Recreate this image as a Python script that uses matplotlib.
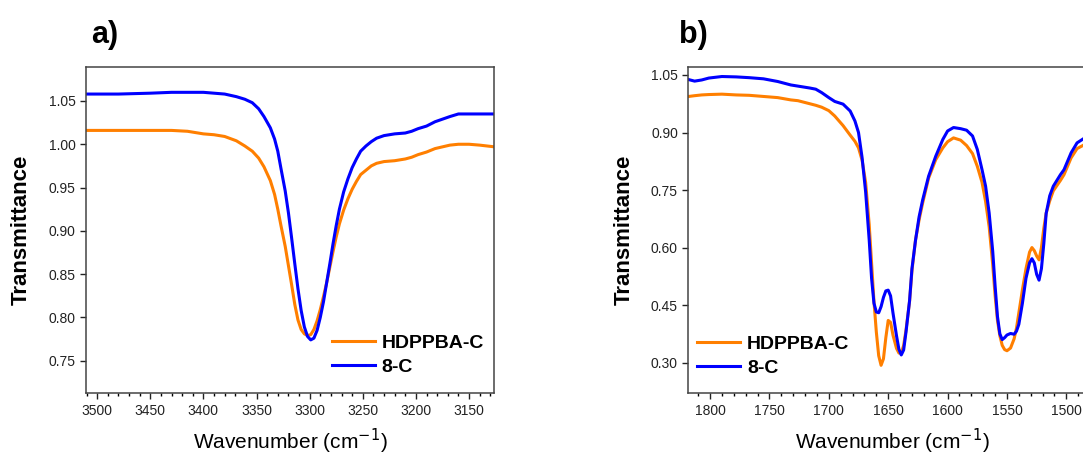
import numpy as np
import matplotlib.pyplot as plt
from matplotlib.ticker import MultipleLocator, FormatStrFormatter

plt.rcParams['font.family'] = ['Liberation Sans', 'DejaVu Sans']

# panel a) : N-H stretching region
wn_a = [3511, 3480, 3450, 3430, 3415, 3400, 3390, 3380, 3369, 3361, 3354, 3348, 3343,
        3337, 3333, 3330, 3327, 3323, 3320, 3317, 3314, 3311, 3308, 3305, 3302, 3299,
        3296, 3293, 3290, 3287, 3284, 3281, 3278, 3275, 3272, 3268, 3264, 3260, 3256,
        3252, 3247, 3242, 3237, 3230, 3220, 3210, 3204, 3198, 3190, 3182, 3175, 3168,
        3160, 3150, 3140, 3126]
hdppba_a = [1.016, 1.016, 1.016, 1.016, 1.015, 1.012, 1.011, 1.009, 1.004, 0.998, 0.992,
            0.984, 0.974, 0.958, 0.942, 0.925, 0.906, 0.882, 0.860, 0.838, 0.815, 0.797,
            0.786, 0.781, 0.779, 0.780, 0.786, 0.796, 0.809, 0.824, 0.840, 0.858, 0.876,
            0.893, 0.908, 0.924, 0.937, 0.948, 0.957, 0.965, 0.970, 0.975, 0.978, 0.980,
            0.981, 0.983, 0.985, 0.988, 0.991, 0.995, 0.997, 0.999, 1.000, 1.000, 0.999,
            0.997]
c8_a = [1.058, 1.058, 1.059, 1.060, 1.060, 1.060, 1.059, 1.058, 1.055, 1.052, 1.048,
        1.041, 1.032, 1.019, 1.006, 0.992, 0.972, 0.946, 0.921, 0.892, 0.862, 0.833,
        0.808, 0.789, 0.778, 0.774, 0.776, 0.785, 0.800, 0.818, 0.840, 0.862, 0.885,
        0.906, 0.925, 0.945, 0.960, 0.973, 0.983, 0.992, 0.998, 1.003, 1.007, 1.010,
        1.012, 1.013, 1.015, 1.018, 1.021, 1.026, 1.029, 1.032, 1.035, 1.035, 1.035,
        1.035]

# panel b) : amide region
wn_b = [1818, 1813, 1807, 1801, 1790, 1778, 1767, 1755, 1743, 1732, 1726, 1716, 1711,
        1706, 1700, 1695, 1688, 1682, 1678, 1675, 1672, 1669, 1666, 1664, 1662, 1660,
        1658, 1656, 1654, 1652, 1650, 1648, 1646, 1643, 1641, 1639, 1637, 1635, 1632,
        1630, 1627, 1624, 1621, 1616, 1610, 1604, 1600, 1595, 1589, 1584, 1579, 1575,
        1571, 1568, 1565, 1562, 1560, 1558, 1556, 1554, 1552, 1550, 1547, 1544, 1542,
        1540, 1537, 1534, 1531, 1529, 1527, 1525, 1523, 1521, 1519, 1517, 1514, 1511,
        1505, 1502, 1496, 1491, 1485, 1476]
hdppba_b = [0.994, 0.996, 0.998, 0.999, 1.000, 0.998, 0.997, 0.994, 0.991, 0.985, 0.983,
            0.975, 0.971, 0.966, 0.957, 0.943, 0.918, 0.893, 0.877, 0.860, 0.828, 0.770,
            0.660, 0.560, 0.460, 0.380, 0.318, 0.293, 0.310, 0.365, 0.410, 0.405, 0.372,
            0.337, 0.325, 0.325, 0.345, 0.385, 0.460, 0.540, 0.620, 0.672, 0.716, 0.781,
            0.829, 0.860, 0.876, 0.886, 0.880, 0.866, 0.845, 0.812, 0.770, 0.720, 0.654,
            0.555, 0.475, 0.410, 0.370, 0.345, 0.334, 0.331, 0.338, 0.362, 0.390, 0.430,
            0.490, 0.545, 0.588, 0.600, 0.592, 0.578, 0.568, 0.600, 0.650, 0.690, 0.722,
            0.748, 0.775, 0.790, 0.834, 0.858, 0.868, 0.885]
c8_b = [1.038, 1.034, 1.037, 1.042, 1.046, 1.045, 1.043, 1.040, 1.033, 1.024, 1.021,
        1.016, 1.013, 1.004, 0.991, 0.981, 0.974, 0.956, 0.930, 0.900, 0.835, 0.745,
        0.620, 0.520, 0.455, 0.432, 0.430, 0.446, 0.470, 0.487, 0.489, 0.474, 0.430,
        0.370, 0.335, 0.320, 0.333, 0.380, 0.462, 0.545, 0.619, 0.680, 0.724, 0.786,
        0.838, 0.882, 0.904, 0.913, 0.910, 0.906, 0.891, 0.856, 0.803, 0.760, 0.690,
        0.590, 0.500, 0.420, 0.375, 0.360, 0.365, 0.372, 0.376, 0.374, 0.382, 0.400,
        0.455, 0.520, 0.560, 0.571, 0.560, 0.530, 0.515, 0.545, 0.610, 0.689, 0.735,
        0.760, 0.790, 0.803, 0.847, 0.873, 0.885, 0.900]

labels = ['HDPPBA-C', '8-C']
colors = ['#ff7f00', '#0000ff']

fig = plt.figure(figsize=(10.83, 4.57), dpi=100)
ax1 = fig.add_axes([86/1083, 1 - 393.3/457, 408/1083, 326.6/457])
ax2 = fig.add_axes([688.3/1083, 1 - 393.3/457, 408/1083, 326.6/457])

ax1.plot(wn_a, hdppba_a, color=colors[0], lw=2.2, label=labels[0])
ax1.plot(wn_a, c8_a, color=colors[1], lw=2.2, label=labels[1])
ax2.plot(wn_b, hdppba_b, color=colors[0], lw=2.2, label=labels[0])
ax2.plot(wn_b, c8_b, color=colors[1], lw=2.2, label=labels[1])

ax1.set_xlim(3510.5, 3126.5)
ax1.set_ylim(0.7123, 1.0896)
ax1.xaxis.set_major_locator(MultipleLocator(50))
ax1.xaxis.set_minor_locator(MultipleLocator(10))
ax1.yaxis.set_major_locator(MultipleLocator(0.05))

ax2.set_xlim(1818.3, 1474.8)
ax2.set_ylim(0.220, 1.0716)
ax2.xaxis.set_major_locator(MultipleLocator(50))
ax2.xaxis.set_minor_locator(MultipleLocator(10))
ax2.yaxis.set_major_locator(MultipleLocator(0.15))

for ax, leg_x, leg_y in [(ax1, 0.603, 0.1167), (ax2, 0.0225, 0.114)]:
    ax.yaxis.set_major_formatter(FormatStrFormatter('%.2f'))
    ax.tick_params(which='major', direction='out', length=4, width=1, labelsize=10,
                   colors='#222222', top=False, right=False)
    ax.tick_params(which='minor', direction='out', length=2.5, width=1, top=False, right=False)
    ax.tick_params(axis='y', which='minor', left=False)
    for sp in ax.spines.values():
        sp.set_color('#444444')
        sp.set_linewidth(1.1)
    ax.text(-0.158, 0.5, 'Transmittance', transform=ax.transAxes, rotation=90,
            ha='center', va='center', fontsize=16, fontweight='bold')
    ax.text(0.5, -0.148, r'Wavenumber (cm$^{-1}$)', transform=ax.transAxes,
            ha='center', va='center', fontsize=15)
    leg = ax.legend(loc='center left', bbox_to_anchor=(leg_x, leg_y), frameon=False,
                    borderpad=0, borderaxespad=0, handlelength=2.2, handletextpad=0.35,
                    labelspacing=0.3, prop={'weight': 'bold', 'size': 14})

fig.text(91/1083, 1 - 35/457, 'a)', fontsize=22, fontweight='bold', ha='left', va='center')
fig.text(679/1083, 1 - 35/457, 'b)', fontsize=22, fontweight='bold', ha='left', va='center')

fig.savefig('out.png', dpi=100)
